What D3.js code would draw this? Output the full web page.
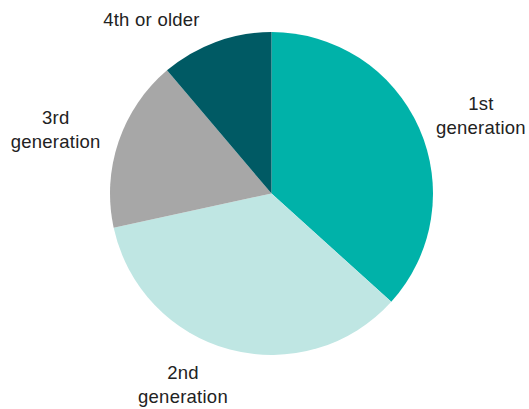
<!DOCTYPE html>
<html><head><meta charset="utf-8">
<script src="https://cdn.jsdelivr.net/npm/d3@7"></script>
<style>html,body{margin:0;padding:0;background:#fff;}svg{display:block;}</style>
</head><body>
<svg id="chart" width="529" height="409"></svg>
<script>
const categories = ["1st generation", "2nd generation", "3rd generation", "4th or older"];
const values = [36.7, 34.9, 17.2, 11.2];
const labelLines = [["1st", "generation"], ["2nd", "generation"], ["3rd", "generation"], ["4th or older"]];
const colors = ["#00b2a9", "#bfe6e3", "#a7a7a7", "#005a64"];

const svg = d3.select("#chart");
const cx = 271.5, cy = 193.5, r = 161.5;
const g = svg.append("g").attr("transform", `translate(${cx},${cy})`);
const pie = d3.pie().sort(null).value(d => d)(values);
const arc = d3.arc().innerRadius(0).outerRadius(r);
g.selectAll("path").data(pie).join("path")
  .attr("d", arc).attr("fill", (d, i) => colors[i]);

// label placement: angle nudge (rad), radius, vertical nudge per slice
const labelNudge = [[0.08, 222, -4], [0.17, 212, -1], [-0.04, 225, 0], [-0.25, 212, 1]];
const lineH = 24;
pie.forEach((d, i) => {
  const a = (d.startAngle + d.endAngle) / 2 + labelNudge[i][0];
  const rr = labelNudge[i][1];
  const x = Math.sin(a) * rr, y = -Math.cos(a) * rr + labelNudge[i][2];
  const lines = labelLines[i];
  const t = g.append("text").attr("text-anchor", "middle")
    .attr("font-family", "Liberation Sans, Arial, sans-serif")
    .attr("font-size", 18.5).attr("letter-spacing", 0.25).attr("fill", "#222");
  lines.forEach((ln, j) => {
    t.append("tspan").attr("x", x)
      .attr("y", y + (j - (lines.length - 1) / 2) * lineH + 6)
      .text(ln);
  });
});
</script>
</body></html>
